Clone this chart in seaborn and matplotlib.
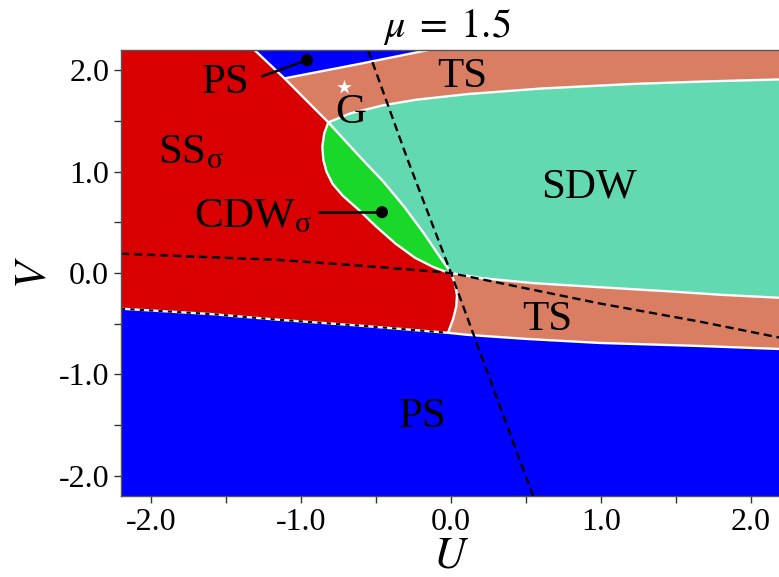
import numpy as np
import matplotlib
matplotlib.use("Agg")
import matplotlib.pyplot as plt
import seaborn as sns

# ---- phase boundaries in the (U, V) plane ----
# upper PS wedge edge (PS|SS and TS|SS), from the top edge down to the triple point
ps_edge_u = [-1.31, -1.11, -0.818]
ps_edge_v = [2.20, 1.92, 1.486]
# upper PS | TS edge
ps_ts_u = [-1.11, -0.62, -0.15]
ps_ts_v = [1.92, 2.06, 2.20]
# TS | SDW (upper)
ts_sdw_u = [-0.818, -0.67, -0.45, -0.23, 0.11, 0.60, 1.21, 1.70, 2.20]
ts_sdw_v = [1.486, 1.575, 1.655, 1.71, 1.765, 1.82, 1.865, 1.89, 1.91]
# SS | CDW (left side of the CDW lens)
ss_cdw_u = [-0.818, -0.845, -0.858, -0.851, -0.83, -0.79, -0.72, -0.62, -0.50, -0.37, -0.24, -0.12, -0.04, 0.0]
ss_cdw_v = [1.486, 1.378, 1.246, 1.114, 1.00, 0.88, 0.76, 0.63, 0.46, 0.29, 0.15, 0.06, 0.015, 0.0]
# CDW | SDW (right side of the lens)
cdw_sdw_u = [-0.818, -0.61, -0.45, -0.31, -0.18, -0.075, 0.0]
cdw_sdw_v = [1.486, 1.15, 0.90, 0.65, 0.39, 0.16, 0.0]
# SDW | TS (lower)
sdw_ts_u = [0.0, 0.20, 0.55, 0.99, 1.44, 1.80, 2.20]
sdw_ts_v = [0.0, -0.05, -0.10, -0.14, -0.18, -0.215, -0.245]
# SS | TS (lower)
ss_ts_u = [0.0, 0.025, 0.04, 0.035, 0.015, -0.02]
ss_ts_v = [0.0, -0.10, -0.22, -0.33, -0.45, -0.59]
# SS | PS (lower)
ss_ps_u = [-2.20, -1.60, -1.16, -0.60, -0.02]
ss_ps_v = [-0.352, -0.405, -0.46, -0.52, -0.59]
# TS | PS (lower)
ts_ps_u = [-0.02, 0.11, 0.50, 0.99, 1.66, 2.20]
ts_ps_v = [-0.59, -0.61, -0.65, -0.69, -0.72, -0.75]

# constant-filling lines (mu = 1.5)
mu_a_u = [-2.20, -1.16, -0.49, 0.0, 0.33, 0.99, 1.66, 2.20]
mu_a_v = [0.19, 0.13, 0.06, 0.0, -0.10, -0.30, -0.48, -0.64]
mu_b_u = [-0.553, -0.287, 0.0, 0.26, 0.547]
mu_b_v = [2.20, 1.11, 0.0, -1.05, -2.20]

# markers
ground_u, ground_v = [-0.71], [1.83]
ps_dot_u, ps_dot_v = [-0.96], [2.10]
cdw_dot_u, cdw_dot_v = [-0.46], [0.60]

xticks = [-2.0, -1.0, 0.0, 1.0, 2.0]
yticks = [-2.0, -1.0, 0.0, 1.0, 2.0]
LIM = 2.2

colors = {
    "PS": "#0000fe",
    "SS": "#d80000",
    "TS": "#d97e62",
    "SDW": "#63d9b1",
    "CDW": "#19d82a",
}

sns.set_style("ticks")
plt.rcParams["font.family"] = ["Liberation Serif", "DejaVu Serif"]
plt.rcParams["mathtext.fontset"] = "stix"
plt.rcParams["axes.unicode_minus"] = False

fig = plt.figure(figsize=(7.79, 5.77), dpi=100)
ax = fig.add_axes([121 / 779, 81 / 577, 660 / 779, 446 / 577])


def rev(a):
    return list(a)[::-1]


# background: PS
ax.fill([-LIM, LIM, LIM, -LIM], [-LIM, -LIM, LIM, LIM], color=colors["PS"], lw=0)

# SS region
ss_u = [-LIM] + ps_edge_u + ss_cdw_u[1:] + ss_ts_u[1:] + rev(ss_ps_u)[1:]
ss_v = [LIM] + ps_edge_v + ss_cdw_v[1:] + ss_ts_v[1:] + rev(ss_ps_v)[1:]
ax.fill(ss_u, ss_v, color=colors["SS"], lw=0)

# upper TS region
ts1_u = ps_ts_u + [LIM, LIM] + rev(ts_sdw_u) + [ps_edge_u[1]]
ts1_v = ps_ts_v + [LIM, ts_sdw_v[-1]] + rev(ts_sdw_v) + [ps_edge_v[1]]
ax.fill(ts1_u, ts1_v, color=colors["TS"], lw=0)

# SDW region
sdw_u = ts_sdw_u + [LIM] + rev(sdw_ts_u) + rev(cdw_sdw_u)
sdw_v = ts_sdw_v + [sdw_ts_v[-1]] + rev(sdw_ts_v) + rev(cdw_sdw_v)
ax.fill(sdw_u, sdw_v, color=colors["SDW"], lw=0)

# CDW lens
ax.fill(ss_cdw_u + rev(cdw_sdw_u), ss_cdw_v + rev(cdw_sdw_v), color=colors["CDW"], lw=0)

# lower TS region
ts2_u = sdw_ts_u + [LIM] + rev(ts_ps_u) + rev(ss_ts_u)
ts2_v = sdw_ts_v + [ts_ps_v[-1]] + rev(ts_ps_v) + rev(ss_ts_v)
ax.fill(ts2_u, ts2_v, color=colors["TS"], lw=0)

# white phase boundaries
for bu, bv in [(ps_edge_u, ps_edge_v), (ps_ts_u, ps_ts_v), (ts_sdw_u, ts_sdw_v),
               (ss_cdw_u, ss_cdw_v), (cdw_sdw_u, cdw_sdw_v), (sdw_ts_u, sdw_ts_v),
               (ss_ts_u, ss_ts_v), (ss_ps_u, ss_ps_v), (ts_ps_u, ts_ps_v)]:
    sns.lineplot(x=bu, y=bv, sort=False, estimator=None, color="white", lw=1.7, ax=ax)

# fixed-mu curves
sns.lineplot(x=mu_a_u, y=mu_a_v, sort=False, estimator=None, color="black", lw=1.7, ax=ax)
ax.lines[-1].set_dashes((3.5, 2))
sns.lineplot(x=mu_b_u, y=mu_b_v, sort=False, estimator=None, color="black", lw=1.7, ax=ax)
ax.lines[-1].set_dashes((3.5, 2))
sns.lineplot(x=ss_ps_u, y=ss_ps_v, sort=False, estimator=None, color="black", lw=1.5, ax=ax)
ax.lines[-1].set_dashes((2, 2.5))

# markers and pointers
sns.scatterplot(x=ground_u, y=ground_v, marker="*", s=120, color="white", edgecolor="none", ax=ax, zorder=5)
ax.plot([-1.26, ps_dot_u[0]], [1.94, ps_dot_v[0]], color="black", lw=1.8)
sns.scatterplot(x=ps_dot_u, y=ps_dot_v, s=75, color="black", edgecolor="none", ax=ax, zorder=5)
ax.plot([-0.88, cdw_dot_u[0]], [0.60, cdw_dot_v[0]], color="black", lw=1.8)
sns.scatterplot(x=cdw_dot_u, y=cdw_dot_v, s=75, color="black", edgecolor="none", ax=ax, zorder=5)

# phase labels
lab = dict(fontsize=31, color="black", va="baseline")
ax.text(-1.95, 1.085, r"SS$_\mathregular{σ}$", ha="left", **lab)
ax.text(-0.92, 0.454, r"CDW$_\mathregular{σ}$", ha="right", **lab)
ax.text(-1.66, 1.775, "PS", ha="left", **lab)
ax.text(-0.773, 1.48, "G", ha="left", **lab)
ax.text(-0.093, 1.834, "TS", ha="left", **lab)
ax.text(0.600, 0.74, "SDW", ha="left", **lab)
ax.text(0.473, -0.562, "TS", ha="left", **lab)
ax.text(-0.347, -1.519, "PS", ha="left", **lab)

fig.text(383 / 779, 1 - 37 / 577, r"$\mu\;=\;1.5$", fontsize=29, ha="left", va="baseline",
         color="black")

ax.set_xlim(-LIM, LIM)
ax.set_ylim(-LIM, LIM)
ax.set_xticks(xticks)
ax.set_yticks(yticks)
ax.set_xticklabels([f"{t:.1f}" for t in xticks])
ax.set_yticklabels([f"{t:.1f}" for t in yticks])
ax.set_xticks([-1.5, -0.5, 0.5, 1.5], minor=True)
ax.set_yticks([-1.5, -0.5, 0.5, 1.5], minor=True)
ax.tick_params(which="both", direction="out", length=5, width=1, color="#333333",
               labelsize=23, labelcolor="black", top=False, right=False)
ax.set_xlabel("$U$", fontsize=32, labelpad=0, color="black")
ax.set_ylabel("$V$", fontsize=32, labelpad=3, color="black")
for s in ax.spines.values():
    s.set_color("#555555")
    s.set_linewidth(1.0)

fig.savefig("out.png", dpi=100)
